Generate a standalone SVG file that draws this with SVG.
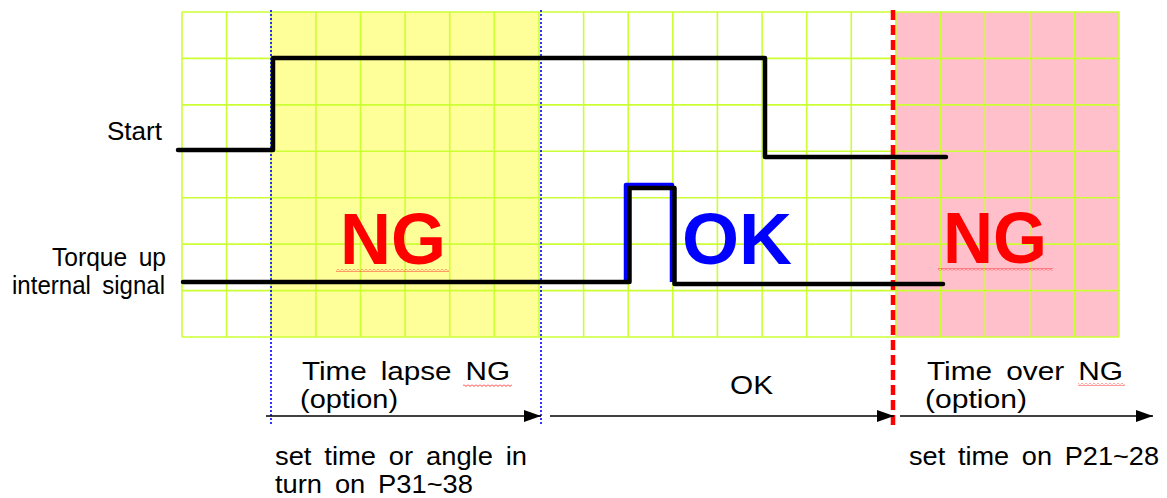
<svg xmlns="http://www.w3.org/2000/svg" width="1167" height="498" viewBox="0 0 1167 498">
<style>
.grid line{stroke:#ccff33;stroke-width:1.6}
.sig{fill:none;stroke:#000;stroke-width:4.5;stroke-linejoin:round;stroke-linecap:round}
.lbl{font-family:"Liberation Sans",Arial,sans-serif;font-size:26px;fill:#000;word-spacing:5px}
.big{font-family:"Liberation Sans",Arial,sans-serif;font-weight:bold;font-size:73px}
.arr{fill:none;stroke:#000;stroke-width:1.6}
.vdot{stroke:#0000ff;stroke-width:1.6;stroke-dasharray:2 2}
</style>
<defs>
<marker id="ah" markerUnits="userSpaceOnUse" markerWidth="18" markerHeight="12" viewBox="0 0 18 12" refX="17" refY="6" orient="auto">
<path d="M0 0 L17 6 L0 12 Z" fill="#000"/>
</marker>
<pattern id="wavy" width="4" height="3" patternUnits="userSpaceOnUse">
<path d="M0 0.5 L2 2.5 L4 0.5" fill="none" stroke="#ff3333" stroke-width="1"/>
</pattern>
</defs>
<rect width="1167" height="498" fill="#fff"/>
<g id="regions">
<rect x="271" y="12" width="269" height="325" fill="#ffff99"/>
<rect x="895" y="12" width="224" height="325" fill="#ffc0cb"/>
</g>
<g id="grid" class="grid">
<line x1="182" y1="12" x2="182" y2="337"/>
<line x1="226.6" y1="12" x2="226.6" y2="337"/>
<line x1="271.2" y1="12" x2="271.2" y2="337"/>
<line x1="315.9" y1="12" x2="315.9" y2="337"/>
<line x1="360.5" y1="12" x2="360.5" y2="337"/>
<line x1="405.1" y1="12" x2="405.1" y2="337"/>
<line x1="449.7" y1="12" x2="449.7" y2="337"/>
<line x1="494.3" y1="12" x2="494.3" y2="337"/>
<line x1="539" y1="12" x2="539" y2="337"/>
<line x1="583.6" y1="12" x2="583.6" y2="337"/>
<line x1="628.2" y1="12" x2="628.2" y2="337"/>
<line x1="672.8" y1="12" x2="672.8" y2="337"/>
<line x1="717.4" y1="12" x2="717.4" y2="337"/>
<line x1="762.1" y1="12" x2="762.1" y2="337"/>
<line x1="806.7" y1="12" x2="806.7" y2="337"/>
<line x1="851.3" y1="12" x2="851.3" y2="337"/>
<line x1="895.9" y1="12" x2="895.9" y2="337"/>
<line x1="940.5" y1="12" x2="940.5" y2="337"/>
<line x1="985.2" y1="12" x2="985.2" y2="337"/>
<line x1="1029.8" y1="12" x2="1029.8" y2="337"/>
<line x1="1074.4" y1="12" x2="1074.4" y2="337"/>
<line x1="1119" y1="12" x2="1119" y2="337"/>
<line x1="182" y1="12" x2="1119" y2="12"/>
<line x1="182" y1="58.4" x2="1119" y2="58.4"/>
<line x1="182" y1="104.9" x2="1119" y2="104.9"/>
<line x1="182" y1="151.3" x2="1119" y2="151.3"/>
<line x1="182" y1="197.7" x2="1119" y2="197.7"/>
<line x1="182" y1="244.1" x2="1119" y2="244.1"/>
<line x1="182" y1="290.6" x2="1119" y2="290.6"/>
<line x1="182" y1="337" x2="1119" y2="337"/>
</g>
<g id="markers-lines">
<line class="vdot" x1="271" y1="10" x2="271" y2="425"/>
<line class="vdot" x1="541" y1="10" x2="541" y2="425"/>
<line x1="893" y1="10" x2="893" y2="427" stroke="#ff0000" stroke-width="4.5" stroke-dasharray="10 5"/>
</g>
<g id="big-labels">
<text class="big" x="340" y="264" fill="#ff0000" textLength="106" lengthAdjust="spacingAndGlyphs">NG</text>
<rect x="336" y="269" width="113" height="3" fill="url(#wavy)"/>
<text class="big" x="682" y="264" fill="#0000ff" font-size="74" textLength="110" lengthAdjust="spacingAndGlyphs">OK</text>
<text class="big" x="943" y="263" fill="#ff0000" textLength="104" lengthAdjust="spacingAndGlyphs">NG</text>
<rect x="938" y="268" width="115" height="3" fill="url(#wavy)"/>
</g>
<g id="signal-start">
<text class="lbl" x="107" y="140" textLength="55" lengthAdjust="spacingAndGlyphs">Start</text>
<path class="sig" d="M178 150 H273 V58 H765 V157 H946"/>
</g>
<g id="signal-torque">
<text class="lbl" x="52" y="266" font-size="20" textLength="114" lengthAdjust="spacingAndGlyphs">Torque up</text>
<text class="lbl" x="12" y="294" font-size="20" textLength="153" lengthAdjust="spacingAndGlyphs">internal signal</text>
<path d="M626 281 V185 H672 V282" fill="none" stroke="#0000ff" stroke-width="4.5" stroke-linejoin="round"/>
<path class="sig" d="M183 282 H629.5 V188 H674.5 V284 H943"/>
</g>
<g id="connectors">
<path class="arr" d="M266 416 H541" marker-end="url(#ah)"/>
<path class="arr" d="M550 416 H894" marker-end="url(#ah)"/>
<path class="arr" d="M900 416 H1153" marker-end="url(#ah)"/>
</g>
<g id="phase-lapse">
<text class="lbl" x="302" y="380" font-size="24" textLength="208" lengthAdjust="spacingAndGlyphs">Time lapse NG</text>
<rect x="463" y="384" width="49" height="3" fill="url(#wavy)"/>
<text class="lbl" x="300" y="408" font-size="24" textLength="98" lengthAdjust="spacingAndGlyphs">(option)</text>
<text class="lbl" x="275" y="465" textLength="252" lengthAdjust="spacingAndGlyphs">set time or angle in</text>
<text class="lbl" x="275" y="493" textLength="198" lengthAdjust="spacingAndGlyphs">turn on P31~38</text>
</g>
<g id="phase-ok">
<text class="lbl" x="730" y="394" textLength="43" lengthAdjust="spacingAndGlyphs">OK</text>
</g>
<g id="phase-over">
<text class="lbl" x="927" y="380" font-size="24" textLength="196" lengthAdjust="spacingAndGlyphs">Time over NG</text>
<rect x="1078" y="383" width="47" height="3" fill="url(#wavy)"/>
<text class="lbl" x="925" y="408" font-size="24" textLength="102" lengthAdjust="spacingAndGlyphs">(option)</text>
<text class="lbl" x="909" y="465" textLength="250" lengthAdjust="spacingAndGlyphs">set time on P21~28</text>
</g>
</svg>
